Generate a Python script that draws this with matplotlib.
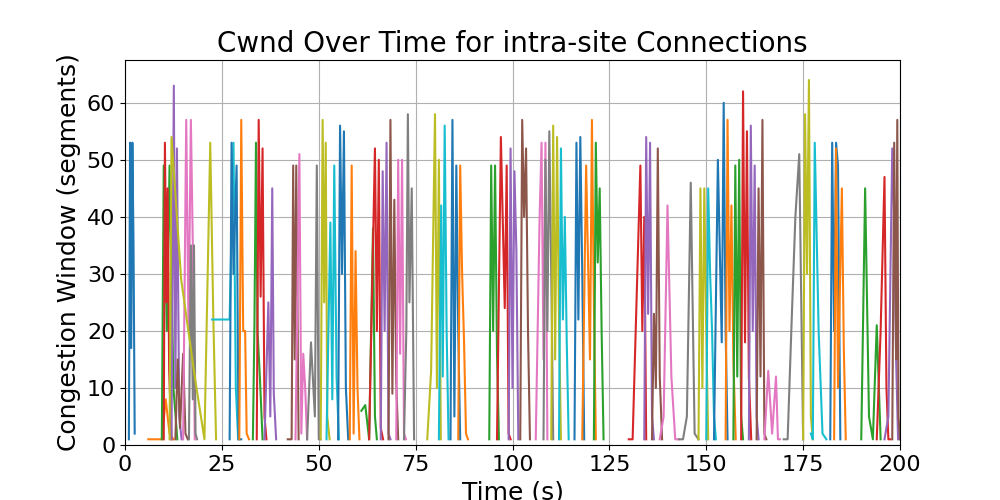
import matplotlib
matplotlib.use("Agg")
import matplotlib.pyplot as plt

# Each connection: (times, cwnd values)
conn_times = [
    [1.0, 1.3, 1.6, 1.9, 2.2, 2.5],
    [6.0, 8.0, 9.5, 10.5, 11.5, 12.5],
    [9.5, 10.0, 10.8, 11.5, 12.5, 13.5],
    [10.0, 10.3, 10.7, 11.0, 11.4, 12.0],
    [12.0, 12.6, 13.0, 13.4, 14.0, 14.6],
    [13.0, 13.6, 14.2, 15.0, 15.6, 16.2],
    [15.0, 15.8, 16.4, 17.0, 17.5, 18.0],
    [16.5, 17.0, 17.5, 17.8, 18.2, 18.6],
    [11.5, 12.0, 14.5, 18.0, 20.5, 22.0, 22.8, 23.5],
    [22.5, 24.0, 27.0, 28.0, 28.6, 29.2],
    [27.0, 27.5, 28.0, 28.8, 29.3, 30.0],
    [29.5, 30.0, 30.5, 31.0, 31.4, 32.0],
    [33.0, 33.4, 33.8, 34.2, 34.8, 35.5],
    [34.0, 34.5, 35.0, 35.5, 36.0, 36.5],
    [36.0, 37.0, 37.5, 38.0, 38.4, 39.0],
    [42.0, 43.0, 43.4, 43.8, 44.2, 44.8],
    [44.0, 45.0, 45.5, 46.0, 46.5, 47.0],
    [47.0, 48.0, 49.0, 49.5, 50.0, 50.5],
    [50.5, 51.0, 51.4, 51.8, 52.2, 52.8],
    [52.0, 53.0, 53.5, 54.0, 54.6, 55.2],
    [55.0, 55.5, 56.0, 56.5, 57.0, 57.6],
    [58.0, 58.5, 59.0, 59.5, 60.0, 60.5],
    [61.0, 62.0, 63.0, 64.0, 64.5, 65.0],
    [63.0, 64.5, 65.0, 65.5, 66.0, 66.6],
    [66.0, 66.5, 67.0, 67.5, 68.0, 68.5],
    [68.0, 68.5, 69.0, 69.5, 70.0, 70.5],
    [70.0, 70.5, 71.0, 71.5, 72.0, 72.5],
    [72.0, 72.6, 73.0, 73.4, 74.0, 74.6],
    [78.0, 79.0, 80.0, 80.5, 81.0, 81.5],
    [81.0, 81.6, 82.0, 82.5, 83.0, 83.5],
    [84.0, 84.5, 85.0, 85.5, 86.0, 86.5],
    [86.0, 86.5, 87.0, 87.5, 88.0, 88.5],
    [94.0, 94.5, 95.0, 95.5, 96.0, 96.5],
    [96.0, 97.0, 98.0, 98.5, 99.0, 99.5],
    [99.0, 99.5, 100.0, 100.5, 101.0, 101.5],
    [102.0, 102.5, 103.0, 103.5, 104.0, 104.5],
    [106.0, 107.0, 107.5, 108.0, 108.5, 109.0],
    [108.0, 108.5, 109.0, 109.5, 110.0, 110.5],
    [110.0, 110.5, 111.0, 111.5, 112.0, 112.5],
    [112.0, 112.5, 113.0, 113.5, 114.0, 114.5],
    [116.0, 116.5, 117.0, 117.5, 118.0, 118.5],
    [118.0, 119.0, 120.0, 120.5, 121.0, 121.5],
    [121.0, 121.5, 122.0, 122.5, 123.0, 123.5],
    [130.0, 131.0, 133.0, 133.5, 134.0, 134.5],
    [134.0, 134.5, 135.0, 135.5, 136.0, 136.5],
    [136.0, 136.5, 137.0, 137.5, 138.0, 138.6],
    [138.0, 139.0, 140.0, 141.0, 142.0, 143.0],
    [143.0, 144.0, 145.0, 146.0, 147.0, 148.0],
    [148.0, 148.5, 149.0, 149.5, 150.0, 150.5],
    [150.0, 150.5, 151.0, 151.5, 152.0, 152.5],
    [152.0, 153.0, 154.0, 154.5, 155.0, 155.5],
    [155.0, 155.5, 156.0, 156.5, 157.0, 157.6],
    [157.0, 157.5, 158.0, 158.5, 159.0, 159.5],
    [159.0, 159.5, 160.0, 160.5, 161.0, 161.6],
    [161.0, 161.5, 162.0, 162.5, 163.0, 163.5],
    [163.0, 163.5, 164.0, 164.5, 165.0, 165.5],
    [165.0, 166.0, 167.0, 168.0, 168.5, 169.0],
    [170.0, 171.0, 172.0, 173.0, 174.0, 175.0],
    [175.0, 175.5, 176.0, 176.5, 177.0, 177.5],
    [177.0, 177.5, 178.0, 179.0, 180.0, 181.0],
    [182.0, 182.5, 183.0, 183.5, 184.0, 184.6],
    [183.0, 183.5, 184.0, 185.0, 185.5, 186.0],
    [190.0, 191.0, 192.0, 193.0, 194.0, 195.0],
    [194.0, 195.0, 196.0, 196.5, 197.0, 197.5],
    [196.0, 197.0, 198.0, 198.5, 199.0, 199.5],
    [198.0, 198.5, 199.0, 199.3, 199.6, 200.0],
]
conn_cwnd = [
    [1, 53, 17, 53, 35, 2],
    [1, 1, 1, 8, 2, 1],
    [1, 49, 20, 49, 10, 1],
    [1, 53, 25, 45, 13, 1],
    [1, 63, 10, 52, 5, 1],
    [1, 15, 3, 16, 2, 1],
    [1, 57, 20, 57, 35, 1],
    [1, 35, 8, 35, 2, 1],
    [1, 54, 29, 12, 1, 53, 22, 1],
    [22, 22, 22, 53, 10, 1],
    [1, 53, 30, 49, 1, 1],
    [1, 57, 20, 20, 2, 1],
    [1, 21, 53, 20, 12, 1],
    [1, 57, 26, 52, 5, 1],
    [1, 25, 5, 45, 9, 1],
    [1, 1, 49, 15, 49, 1],
    [1, 51, 2, 16, 10, 1],
    [1, 18, 5, 49, 1, 1],
    [1, 57, 25, 53, 5, 1],
    [1, 39, 8, 49, 12, 1],
    [1, 56, 30, 55, 10, 1],
    [1, 49, 2, 34, 10, 1],
    [6, 7, 1, 38, 5, 1],
    [1, 52, 20, 50, 3, 1],
    [1, 48, 20, 53, 2, 1],
    [1, 57, 9, 43, 11, 1],
    [1, 50, 16, 50, 2, 1],
    [1, 20, 58, 25, 45, 1],
    [1, 13, 58, 10, 50, 1],
    [1, 42, 12, 56, 20, 1],
    [1, 57, 5, 49, 20, 1],
    [1, 49, 30, 18, 2, 1],
    [1, 49, 20, 49, 16, 1],
    [1, 54, 24, 49, 2, 1],
    [1, 52, 10, 48, 34, 1],
    [1, 57, 40, 52, 20, 1],
    [1, 40, 53, 15, 53, 1],
    [1, 50, 20, 55, 30, 1],
    [1, 56, 15, 54, 22, 1],
    [1, 52, 22, 40, 18, 1],
    [1, 53, 22, 54, 30, 1],
    [1, 49, 15, 57, 25, 1],
    [1, 53, 32, 45, 20, 1],
    [1, 1, 49, 20, 40, 1],
    [1, 54, 23, 53, 5, 1],
    [1, 23, 10, 52, 12, 1],
    [1, 5, 42, 12, 1, 1],
    [1, 1, 5, 46, 2, 1],
    [1, 45, 10, 45, 20, 1],
    [1, 45, 30, 20, 5, 1],
    [1, 50, 18, 60, 20, 1],
    [1, 57, 20, 42, 15, 1],
    [1, 49, 12, 50, 5, 1],
    [1, 62, 18, 55, 12, 1],
    [1, 56, 20, 49, 5, 1],
    [1, 45, 12, 57, 2, 1],
    [1, 13, 2, 12, 1, 1],
    [1, 1, 21, 40, 51, 1],
    [1, 58, 30, 64, 5, 1],
    [2, 1, 53, 20, 2, 1],
    [1, 53, 20, 53, 49, 1],
    [1, 52, 10, 45, 17, 1],
    [1, 45, 5, 1, 21, 1],
    [1, 20, 47, 10, 1, 1],
    [1, 5, 52, 40, 15, 1],
    [1, 53, 15, 57, 5, 1],
]

fig, ax = plt.subplots(figsize=(10, 5), dpi=100)
for t, v in zip(conn_times, conn_cwnd):
    ax.plot(t, v, linewidth=1.5)
ax.set_xlim(0, 200)
ax.set_ylim(0, 67.5)
ax.grid(True)
ax.set_title("Cwnd Over Time for intra-site Connections", fontsize=20)
ax.set_xlabel("Time (s)", fontsize=18)
ax.set_ylabel("Congestion Window (segments)", fontsize=18)
ax.tick_params(labelsize=16)
fig.savefig("out.png")
